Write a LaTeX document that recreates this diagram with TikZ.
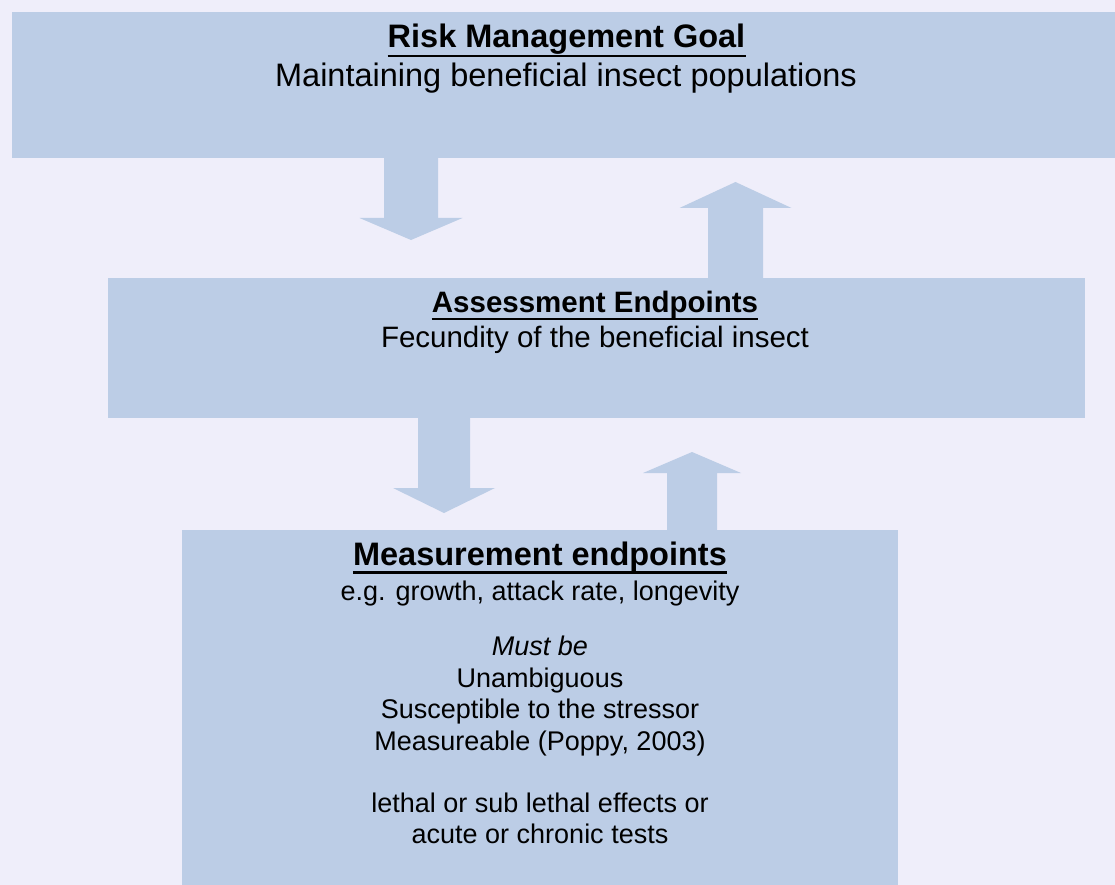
\documentclass[tikz,border=0pt]{standalone}
\usepackage{fontspec}
\setmainfont{Liberation Sans}
\usetikzlibrary{calc}

\definecolor{pagebg}{RGB}{239,238,250}
\definecolor{panel}{RGB}{188,205,230}

\tikzset{
  panelbox/.style={fill=panel, draw=none, inner sep=0pt, anchor=north west},
  headbig/.style={inner sep=0pt, anchor=base, font=\fontsize{32.5}{39}\selectfont\bfseries},
  headmid/.style={inner sep=0pt, anchor=base, font=\fontsize{29.5}{35}\selectfont\bfseries},
  linebig/.style={inner sep=0pt, anchor=base, font=\fontsize{32.5}{39}\selectfont},
  linemid/.style={inner sep=0pt, anchor=base, font=\fontsize{29.5}{35}\selectfont},
  linesmall/.style={inner sep=0pt, anchor=base, font=\fontsize{27}{32}\selectfont},
  headrule/.style={line width=2.4pt, black}
}

% block arrow: centre x, shaft start y, head base y, tip y, half shaft width, half head width
\newcommand\blockarrow[6]{%
  \fill[panel] ({#1-#5},#2) -- ({#1+#5},#2) -- ({#1+#5},#3) -- ({#1+#6},#3)
    -- (#1,#4) -- ({#1-#6},#3) -- ({#1-#5},#3) -- cycle;}

\begin{document}
\begin{tikzpicture}[x=1pt, y=-1pt]
  % page
  \fill[pagebg] (0,0) rectangle (1115,885);
  \useasboundingbox (0,0) rectangle (1115,885);

  % panels
  \node[panelbox, minimum width=1103pt, minimum height=146pt] (goal) at (12,12) {};
  \node[panelbox, minimum width=977pt, minimum height=140pt] (assess) at (108,278) {};
  \node[panelbox, minimum width=716pt, minimum height=357pt] (measure) at (182,530) {};

  % arrows between panels
  \blockarrow{411}{157}{218}{240}{27}{51.5}
  \blockarrow{735.5}{279}{208}{182}{27.5}{56}
  \blockarrow{444}{417}{488}{513}{26}{51}
  \blockarrow{692}{531}{473}{452}{25}{49}

  % risk management goal
  \node[headbig] (goalhead) at (566.5,48) {Risk Management Goal};
  \draw[headrule] ($(goalhead.base west)+(0,8)$) -- ($(goalhead.base east)+(0,8)$);
  \node[linebig] (goaltext) at (566,87) {Maintaining beneficial insect populations};

  % assessment endpoints
  \node[headmid] (assesshead) at (595,312) {Assessment Endpoints};
  \draw[headrule] ($(assesshead.base west)+(0,7)$) -- ($(assesshead.base east)+(0,7)$);
  \node[linemid] (assesstext) at (595,347) {Fecundity of the beneficial insect};

  % measurement endpoints
  \node[headbig] (measurehead) at (540,565) {Measurement endpoints};
  \draw[headrule] ($(measurehead.base west)+(0,7.5)$) -- ($(measurehead.base east)+(0,7.5)$);
  \node[linesmall] (m1) at (540,600) {e.g. growth, attack rate, longevity};
  \node[linesmall, font=\fontsize{27}{32}\selectfont\itshape] (m2) at (540,655) {Must be};
  \node[linesmall] (m3) at (540,687) {Unambiguous};
  \node[linesmall] (m4) at (540,718) {Susceptible to the stressor};
  \node[linesmall] (m5) at (540,750) {Measureable (Poppy, 2003)};
  \node[linesmall] (m6) at (540,812) {lethal or sub lethal effects or};
  \node[linesmall] (m7) at (540,843) {acute or chronic tests};
\end{tikzpicture}
\end{document}
